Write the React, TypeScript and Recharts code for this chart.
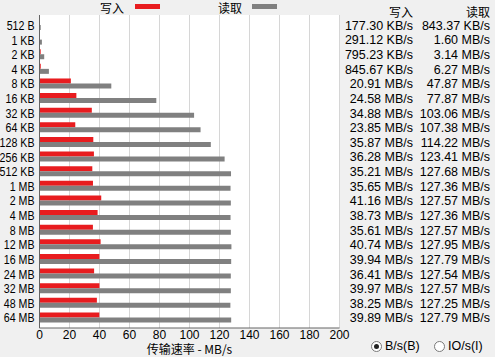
import { BarChart, Bar, XAxis, YAxis, CartesianGrid } from "recharts";

const categories = [
  "512 B", "1 KB", "2 KB", "4 KB", "8 KB", "16 KB", "32 KB", "64 KB", "128 KB", "256 KB",
  "512 KB", "1 MB", "2 MB", "4 MB", "8 MB", "12 MB", "16 MB", "24 MB", "32 MB", "48 MB", "64 MB",
];

// MB/s
const writeValues = [
  0.17, 0.28, 0.78, 0.83, 20.91, 24.58, 34.88, 23.85, 35.87, 36.28,
  35.21, 35.65, 41.16, 38.73, 35.61, 40.74, 39.94, 36.41, 39.97, 38.25, 39.89,
];
const readValues = [
  0.82, 1.6, 3.14, 6.27, 47.87, 77.87, 103.06, 107.38, 114.22, 123.41,
  127.68, 127.36, 127.57, 127.36, 127.57, 127.95, 127.79, 127.54, 127.57, 127.25, 127.79,
];

const writeLabels = [
  "177.30 KB/s", "291.12 KB/s", "795.23 KB/s", "845.67 KB/s", "20.91 MB/s", "24.58 MB/s",
  "34.88 MB/s", "23.85 MB/s", "35.87 MB/s", "36.28 MB/s", "35.21 MB/s", "35.65 MB/s",
  "41.16 MB/s", "38.73 MB/s", "35.61 MB/s", "40.74 MB/s", "39.94 MB/s", "36.41 MB/s",
  "39.97 MB/s", "38.25 MB/s", "39.89 MB/s",
];
const readLabels = [
  "843.37 KB/s", "1.60 MB/s", "3.14 MB/s", "6.27 MB/s", "47.87 MB/s", "77.87 MB/s",
  "103.06 MB/s", "107.38 MB/s", "114.22 MB/s", "123.41 MB/s", "127.68 MB/s", "127.36 MB/s",
  "127.57 MB/s", "127.36 MB/s", "127.57 MB/s", "127.95 MB/s", "127.79 MB/s", "127.54 MB/s",
  "127.57 MB/s", "127.25 MB/s", "127.79 MB/s",
];

const xTicks = [0, 20, 40, 60, 80, 100, 120, 140, 160, 180, 200];

const WRITE = "#e81c1f";
const READ = "#808080";
const FRAME = "#646464";
const FONT = "'Liberation Sans', Arial, 'Noto Sans CJK SC', sans-serif";
const CJK = "'Noto Sans CJK SC', sans-serif";

const chartData = categories.map((name, i) => ({
  name,
  write: writeValues[i],
  read: readValues[i],
}));

const tickStyle = { fontSize: 12, fill: "#000", fontFamily: FONT };

// block size labels are narrow in the original, squeeze horizontally
function SizeTick(props: any) {
  const { x, y, payload } = props;
  return (
    <text
      transform={`translate(${x},${y}) scale(0.82,1)`}
      x={0}
      y={0}
      dy="0.36em"
      textAnchor="end"
      fontSize={13}
      fontFamily={FONT}
      fill="#000"
    >
      {payload.value}
    </text>
  );
}

function Radio({ checked }: { checked: boolean }) {
  return (
    <span
      style={{
        display: "inline-block",
        width: 11,
        height: 11,
        borderRadius: "50%",
        border: "1px solid #7a7a7a",
        background: "#fff",
        position: "relative",
        verticalAlign: "middle",
        marginRight: 3,
        boxSizing: "border-box",
      }}
    >
      {checked && (
        <span
          style={{
            position: "absolute",
            left: 2,
            top: 2,
            width: 5,
            height: 5,
            borderRadius: "50%",
            background: "#222",
          }}
        />
      )}
    </span>
  );
}

const headStyle = {
  position: "absolute" as const,
  fontSize: 12,
  fontFamily: CJK,
  lineHeight: "12px",
  whiteSpace: "nowrap" as const,
};

export default function App() {
  return (
    <div
      style={{
        position: "absolute",
        left: 0,
        top: 0,
        width: 495,
        height: 357,
        background: "#f0f0f0",
        fontFamily: FONT,
        color: "#000",
        overflow: "hidden",
      }}
    >
      <BarChart
        width={495}
        height={357}
        data={chartData}
        layout="vertical"
        margin={{ top: 15, right: 155.5, bottom: 0, left: 0 }}
        barSize={5}
        barGap={0}
      >
        <CartesianGrid horizontal={false} stroke="#d6d6d6" fill="#fff" />
        <XAxis
          type="number"
          domain={[0, 200]}
          ticks={xTicks}
          interval={0}
          height={29}
          tickSize={0}
          tickMargin={2}
          axisLine={{ stroke: FRAME }}
          tick={tickStyle}
          label={{
            value: "传输速率 - MB/s",
            position: "insideBottom",
            offset: 3,
            style: { fontSize: 12, fill: "#000", fontFamily: CJK },
          }}
        />
        <XAxis
          xAxisId="top"
          orientation="top"
          type="number"
          domain={[0, 200]}
          height={0}
          tick={false}
          tickLine={false}
          axisLine={{ stroke: FRAME }}
        />
        <YAxis
          type="category"
          dataKey="name"
          width={39.5}
          tickSize={0}
          tickMargin={5}
          interval={0}
          padding={{ top: 3, bottom: 3 }}
          axisLine={{ stroke: FRAME }}
          tick={<SizeTick />}
        />
        <YAxis
          yAxisId="right"
          orientation="right"
          type="category"
          dataKey="name"
          width={0}
          tick={false}
          tickLine={false}
          axisLine={{ stroke: FRAME }}
        />
        <Bar dataKey="write" fill={WRITE} isAnimationActive={false} />
        <Bar dataKey="read" fill={READ} isAnimationActive={false} />
      </BarChart>

      {/* legend */}
      <div style={{ ...headStyle, left: 100, top: 2 }}>写入</div>
      <div style={{ position: "absolute", left: 135, top: 4, width: 25, height: 5, background: WRITE }} />
      <div style={{ ...headStyle, left: 218, top: 2 }}>读取</div>
      <div style={{ position: "absolute", left: 252, top: 4, width: 25, height: 5, background: READ }} />

      {/* results table */}
      <div style={{ ...headStyle, left: 340, top: 6, width: 73, textAlign: "right" }}>写入</div>
      <div style={{ ...headStyle, left: 414, top: 6, width: 76, textAlign: "right" }}>读取</div>
      {categories.map((c, i) => (
        <div key={c}>
          <div
            style={{
              position: "absolute",
              left: 330,
              top: 25.8 + i * 14.63 - 6,
              width: 83,
              textAlign: "right",
              fontSize: 12.5,
              lineHeight: "12px",
              whiteSpace: "nowrap",
            }}
          >
            {writeLabels[i]}
          </div>
          <div
            style={{
              position: "absolute",
              left: 414,
              top: 25.8 + i * 14.63 - 6,
              width: 76,
              textAlign: "right",
              fontSize: 12.5,
              lineHeight: "12px",
              whiteSpace: "nowrap",
            }}
          >
            {readLabels[i]}
          </div>
        </div>
      ))}

      {/* units */}
      <div style={{ position: "absolute", left: 371, top: 339, fontSize: 12.5, lineHeight: "14px", whiteSpace: "nowrap" }}>
        <Radio checked />B/s(B)
      </div>
      <div style={{ position: "absolute", left: 434, top: 339, fontSize: 12.5, lineHeight: "14px", whiteSpace: "nowrap" }}>
        <Radio checked={false} />IO/s(I)
      </div>
    </div>
  );
}
